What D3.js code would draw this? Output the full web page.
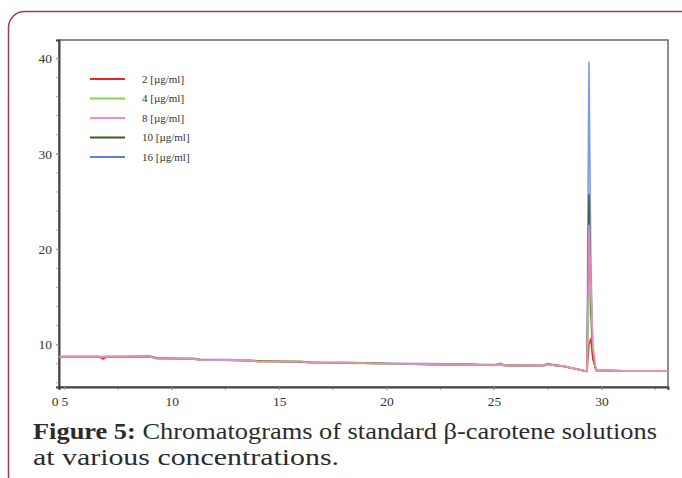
<!DOCTYPE html>
<html>
<head>
<meta charset="utf-8">
<script src="https://cdn.jsdelivr.net/npm/d3@7/dist/d3.min.js"></script>
<style>
html,body{margin:0;padding:0;background:#fff;}
svg{display:block;}
</style>
</head>
<body>
<svg id="chart" width="682" height="478"></svg>
<script>
// ---- data ----
const seriesNames = ["2 [µg/ml]", "4 [µg/ml]", "8 [µg/ml]", "10 [µg/ml]", "16 [µg/ml]"];
const seriesColors = ["#e8262a", "#86d44a", "#f28cc8", "#3d5a1c", "#5b7fe6"];
const times = [4.75, 6.6, 6.8, 7.0, 9.0, 9.3, 11.0, 11.3, 13.5, 14.0, 16.0, 16.5, 18.0, 20.0, 22.0, 24.0, 25.0, 25.3, 25.5, 25.8, 27.3, 27.5, 27.8, 28.2, 29.33, 29.42, 29.5, 29.6, 29.75, 31.0, 33.1];
const conc2  = [8.75, 8.75, 8.50, 8.75, 8.70, 8.55, 8.50, 8.40, 8.35, 8.25, 8.20, 8.10, 8.10, 8.00, 7.95, 7.90, 7.85, 7.92, 7.80, 7.80, 7.80, 7.92, 7.85, 7.75, 7.20, 10.0, 10.6, 8.6, 7.30, 7.25, 7.25];
const conc4  = [8.72, 8.72, 8.72, 8.72, 8.78, 8.50, 8.56, 8.36, 8.40, 8.22, 8.25, 8.06, 8.14, 7.97, 7.99, 7.86, 7.88, 7.94, 7.77, 7.84, 7.76, 7.94, 7.82, 7.78, 7.20, 15.0, 16.2, 9.6, 7.30, 7.22, 7.22];
const conc8  = [8.75, 8.75, 8.75, 8.75, 8.70, 8.55, 8.50, 8.40, 8.35, 8.25, 8.20, 8.10, 8.10, 8.00, 7.95, 7.90, 7.85, 7.95, 7.80, 7.80, 7.80, 7.95, 7.85, 7.75, 7.20, 22.5, 17.0, 10.2, 7.30, 7.25, 7.25];
const conc10 = [8.72, 8.72, 8.72, 8.72, 8.74, 8.58, 8.48, 8.44, 8.31, 8.28, 8.16, 8.13, 8.06, 8.03, 7.91, 7.92, 7.82, 7.98, 7.78, 7.82, 7.78, 7.98, 7.83, 7.75, 7.20, 25.7, 14.0, 8.6, 7.30, 7.25, 7.25];
const conc16 = [8.76, 8.76, 8.76, 8.76, 8.80, 8.62, 8.58, 8.46, 8.42, 8.30, 8.26, 8.15, 8.16, 8.05, 8.01, 7.94, 7.90, 8.04, 7.84, 7.86, 7.84, 8.02, 7.88, 7.77, 7.20, 39.6, 20.0, 9.0, 7.30, 7.25, 7.25];
const seriesValues = [conc2, conc4, conc8, conc10, conc16];
const drawOrder = [4, 3, 0, 1, 2];
const xTickValues = [5, 10, 15, 20, 25, 30];
const yTickValues = [10, 20, 30, 40];
const captionBold = "Figure 5:";
const captionLine1 = " Chromatograms of standard β-carotene solutions";
const captionLine2 = "at various concentrations.";

// ---- layout ----
const svg = d3.select("#chart");
const plot = {left: 59, top: 40, right: 668, bottom: 387};
const serif = "Liberation Serif";

// outer card border
svg.append("rect")
  .attr("x", 8.5).attr("y", 11.5)
  .attr("width", 700).attr("height", 480)
  .attr("rx", 16).attr("ry", 16)
  .attr("fill", "none")
  .attr("stroke", "#a3345c")
  .attr("stroke-width", 1.5);

const x = d3.scaleLinear().domain([4.75, 33.1]).range([plot.left, plot.right]);
const y = d3.scaleLinear().domain([5.56, 41.93]).range([plot.bottom, plot.top]);

// plot frame
svg.append("rect")
  .attr("x", plot.left).attr("y", plot.top)
  .attr("width", plot.right - plot.left).attr("height", plot.bottom - plot.top)
  .attr("fill", "#fff")
  .attr("stroke", "#6a6a6a")
  .attr("stroke-width", 1.5);

// minor ticks
const yMinor = d3.range(6, 42, 2);
svg.append("g").selectAll("line").data(yMinor).join("line")
  .attr("x1", plot.left - 3).attr("x2", plot.left)
  .attr("y1", d => y(d)).attr("y2", d => y(d))
  .attr("stroke", "#aaa").attr("stroke-width", 1);
const xMinor = d3.range(7.5, 33.1, 2.5);
svg.append("g").selectAll("line").data(xMinor).join("line")
  .attr("x1", d => x(d)).attr("x2", d => x(d))
  .attr("y1", plot.bottom).attr("y2", plot.bottom + 3)
  .attr("stroke", "#aaa").attr("stroke-width", 1);

// axes
const xAxis = d3.axisBottom(x).tickValues(xTickValues).tickSize(3).tickFormat(d3.format("d"));
const gx = svg.append("g").attr("transform", `translate(0,${plot.bottom})`).call(xAxis);
gx.attr("font-family", serif);
gx.select(".domain").attr("stroke", "#444").attr("stroke-width", 2);
gx.selectAll(".tick line").attr("stroke", "#999");
gx.selectAll(".tick text").attr("dy", "0.95em")
  .attr("font-family", serif).attr("font-size", 13.5).attr("fill", "#333");
gx.append("text").attr("x", plot.left - 4).attr("y", 6).attr("dy", "0.95em")
  .attr("text-anchor", "middle")
  .attr("font-family", serif).attr("font-size", 13.5).attr("fill", "#333")
  .text("0");

const yAxis = d3.axisLeft(y).tickValues(yTickValues).tickSize(3).tickFormat(d3.format("d"));
const gy = svg.append("g").attr("transform", `translate(${plot.left},0)`).call(yAxis);
gy.attr("font-family", serif);
gy.select(".domain").attr("stroke", "#444").attr("stroke-width", 2);
gy.selectAll(".tick line").attr("stroke", "#999");
gy.selectAll(".tick text").attr("x", -7)
  .attr("font-family", serif).attr("font-size", 13.5).attr("fill", "#333");

// lines
const line = d3.line().x((d, i) => x(times[i])).y(d => y(d));
const gl = svg.append("g");
drawOrder.forEach(k => {
  gl.append("path")
    .attr("d", line(seriesValues[k]))
    .attr("fill", "none")
    .attr("stroke", seriesColors[k])
    .attr("stroke-width", 1.6)
    .attr("stroke-opacity", k === 4 ? 0.8 : 0.9)
    .attr("stroke-linejoin", "round");
});

// legend
const lg = svg.append("g");
seriesNames.forEach((name, k) => {
  const yy = 79 + k * 19.5;
  lg.append("line").attr("x1", 90).attr("x2", 125).attr("y1", yy).attr("y2", yy)
    .attr("stroke", seriesColors[k]).attr("stroke-width", 2);
  lg.append("text").attr("x", 142).attr("y", yy + 3.5)
    .attr("font-family", serif).attr("font-size", 11)
    .attr("fill", "#333").text(name);
});

// caption
const cap = svg.append("text").attr("x", 33).attr("y", 439)
  .attr("textLength", 624).attr("lengthAdjust", "spacingAndGlyphs")
  .attr("font-family", serif).attr("font-size", 22.5).attr("fill", "#2b2b2b");
cap.append("tspan").attr("font-weight", "bold").text(captionBold);
cap.append("tspan").text(captionLine1);
svg.append("text").attr("x", 33).attr("y", 465)
  .attr("textLength", 306).attr("lengthAdjust", "spacingAndGlyphs")
  .attr("font-family", serif).attr("font-size", 22.5).attr("fill", "#2b2b2b")
  .text(captionLine2);
</script>
</body>
</html>
